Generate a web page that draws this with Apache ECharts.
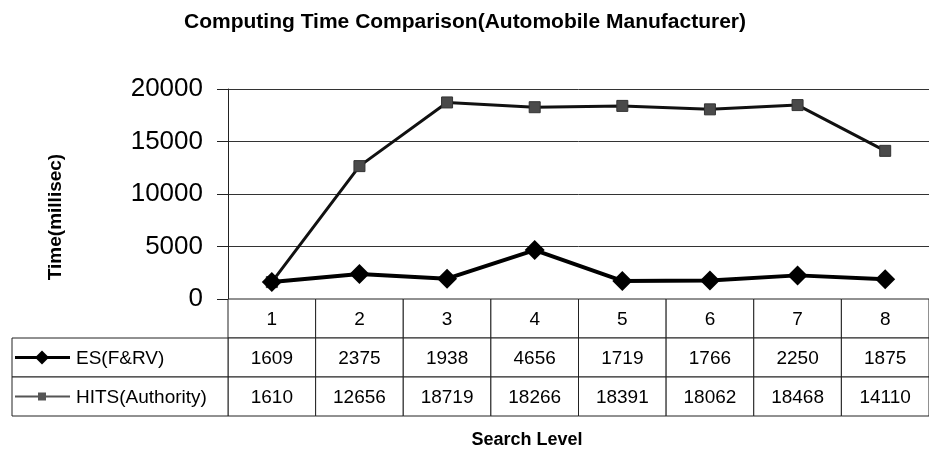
<!DOCTYPE html>
<html>
<head>
<meta charset="utf-8">
<script src="https://cdn.jsdelivr.net/npm/echarts@6/dist/echarts.min.js"></script>
<style>
  html, body { margin: 0; padding: 0; background: #fff; }
  #chart { width: 929px; height: 453px; }
</style>
</head>
<body>
<div id="chart"></div>
<script>
// data
const levels = ['1', '2', '3', '4', '5', '6', '7', '8'];
const seriesNames = ['ES(F&RV)', 'HITS(Authority)'];
const esValues = [1609, 2375, 1938, 4656, 1719, 1766, 2250, 1875];
const hitsValues = [1610, 12656, 18719, 18266, 18391, 18062, 18468, 14110];
const yMin = 0;
const yMax = 20000;
const yStep = 5000;

const FONT = '"Liberation Sans", Arial, sans-serif';
const rows = [levels, esValues, hitsValues];

// cells of the data table: [column, row]
const cellData = [];
rows.forEach((r, ri) => {
  r.forEach((v, ci) => cellData.push([ci, ri]));
});
const legendData = [[0, 1], [0, 2]];

function renderCell(params, api) {
  const col = api.value(0);
  const row = api.value(1);
  const c = api.coord([col, row]);
  const s = api.size([1, 1]);
  return {
    type: 'group',
    children: [
      {
        type: 'rect',
        shape: { x: c[0] - s[0] / 2, y: c[1] - s[1] / 2, width: s[0], height: s[1] },
        style: { fill: '#fff', stroke: '#222', lineWidth: 1 }
      },
      {
        type: 'text',
        style: {
          text: String(rows[row][col]),
          x: c[0], y: c[1] + 1,
          align: 'center', verticalAlign: 'middle',
          font: '19px ' + FONT, fill: '#000'
        }
      }
    ]
  };
}

function renderLegend(params, api) {
  const row = api.value(1);
  const c = api.coord([0, row]);
  const s = api.size([1, 1]);
  const left = 12;
  const right = c[0] - s[0] / 2;
  const y = c[1];
  const es = row === 1;
  const mark = es
    ? { type: 'polygon', shape: { points: [[42, y - 7], [49, y], [42, y + 7], [35, y]] }, style: { fill: '#000' } }
    : { type: 'rect', shape: { x: 38, y: y - 4, width: 8, height: 8 }, style: { fill: '#555' } };
  return {
    type: 'group',
    children: [
      {
        type: 'rect',
        shape: { x: left, y: c[1] - s[1] / 2, width: right - left, height: s[1] },
        style: { fill: '#fff', stroke: '#222', lineWidth: 1 }
      },
      {
        type: 'line',
        shape: { x1: 15, y1: y, x2: 70, y2: y },
        style: { stroke: es ? '#000' : '#555', lineWidth: es ? 3 : 2 }
      },
      mark,
      {
        type: 'text',
        style: {
          text: seriesNames[row - 1],
          x: 76, y: y + 1,
          align: 'left', verticalAlign: 'middle',
          font: '19px ' + FONT, fill: '#000'
        }
      }
    ]
  };
}

const chart = echarts.init(document.getElementById('chart'), null, { renderer: 'canvas' });

const option = {
  backgroundColor: '#fff',
  animation: false,
  graphic: [
    {
      type: 'text',
      x: 465, y: 22,
      style: {
        text: 'Computing Time Comparison(Automobile Manufacturer)',
        align: 'center', verticalAlign: 'middle',
        font: 'bold 21px ' + FONT, fill: '#000'
      }
    },
    {
      type: 'text',
      x: 527, y: 440,
      style: {
        text: 'Search Level',
        align: 'center', verticalAlign: 'middle',
        font: 'bold 18px ' + FONT, fill: '#000'
      }
    },
    {
      type: 'text',
      x: 56, y: 217,
      rotation: Math.PI / 2,
      style: {
        text: 'Time(millisec)',
        align: 'center', verticalAlign: 'middle',
        font: 'bold 19px ' + FONT, fill: '#000'
      }
    }
  ],
  grid: [
    { left: 228, top: 89, width: 711, height: 210 },
    { left: 228, top: 299, width: 711, height: 117 }
  ],
  xAxis: [
    {
      type: 'category',
      gridIndex: 0,
      data: levels,
      boundaryGap: true,
      axisLine: { show: true, lineStyle: { color: '#222', width: 1 } },
      axisTick: { show: false },
      axisLabel: { show: false },
      splitLine: { show: false }
    },
    {
      type: 'category',
      gridIndex: 1,
      data: levels,
      boundaryGap: true,
      show: false
    }
  ],
  yAxis: [
    {
      type: 'value',
      gridIndex: 0,
      min: yMin,
      max: yMax,
      interval: yStep,
      axisLine: { show: true, lineStyle: { color: '#222', width: 1 } },
      axisTick: { show: true, length: 11, lineStyle: { color: '#222' } },
      axisLabel: {
        color: '#000', fontSize: 26, fontFamily: FONT, margin: 25,
        formatter: (v) => String(v)
      },
      splitLine: { show: true, lineStyle: { color: '#333', width: 1 } }
    },
    {
      type: 'category',
      gridIndex: 1,
      data: ['level', 'es', 'hits'],
      inverse: true,
      show: false
    }
  ],
  series: [
    {
      name: seriesNames[1],
      type: 'line',
      xAxisIndex: 0,
      yAxisIndex: 0,
      data: hitsValues,
      symbol: 'rect',
      symbolSize: 11,
      lineStyle: { color: '#111', width: 3 },
      itemStyle: { color: '#4a4a4a', borderColor: '#333', borderWidth: 1 },
      z: 3
    },
    {
      name: seriesNames[0],
      type: 'line',
      xAxisIndex: 0,
      yAxisIndex: 0,
      data: esValues,
      symbol: 'diamond',
      symbolSize: [20, 20],
      lineStyle: { color: '#000', width: 4 },
      itemStyle: { color: '#000' },
      z: 4
    },
    {
      type: 'custom',
      xAxisIndex: 1,
      yAxisIndex: 1,
      data: cellData,
      encode: { x: 0, y: 1 },
      renderItem: renderCell,
      clip: false,
      silent: true
    },
    {
      type: 'custom',
      xAxisIndex: 1,
      yAxisIndex: 1,
      data: legendData,
      encode: { x: 0, y: 1 },
      renderItem: renderLegend,
      clip: false,
      silent: true
    }
  ]
};

chart.setOption(option);
window.addEventListener('resize', chart.resize);
</script>
</body>
</html>
